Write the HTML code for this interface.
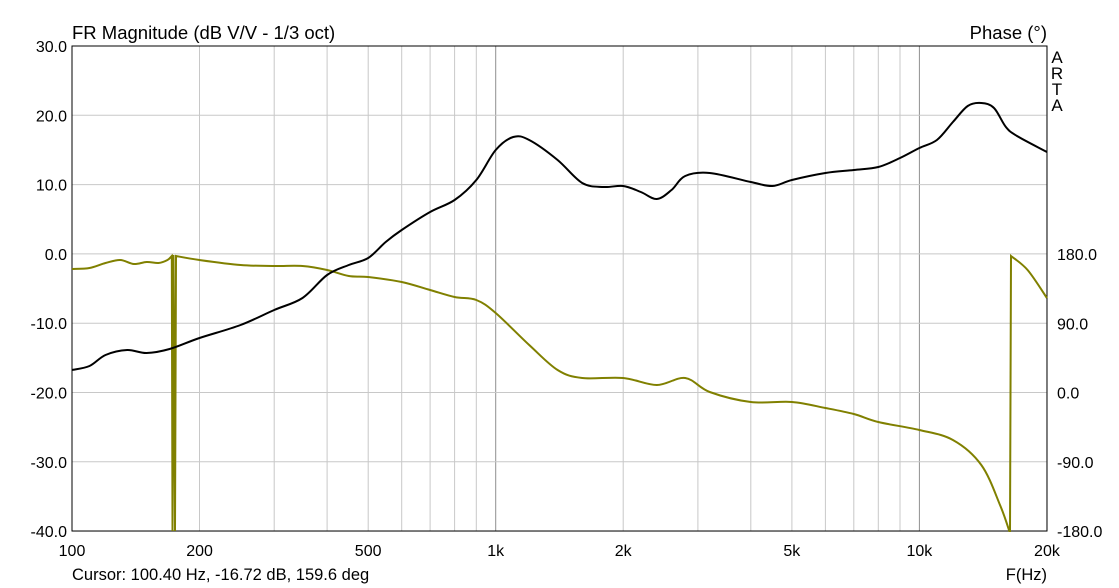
<!DOCTYPE html>
<html><head><style>
body{margin:0;background:#fff;}
svg{display:block;font-family:"Liberation Sans",sans-serif;}
</style></head><body>
<svg id="s" width="1119" height="588" xmlns="http://www.w3.org/2000/svg">
<rect width="1119" height="588" fill="#fff"/>
<g id="grid"></g>
<rect x="72" y="46" width="975" height="485" fill="none" stroke="#000" stroke-width="1"/>
<path id="ph" fill="none" stroke="#808000" stroke-width="2"/>
<path id="mag" fill="none" stroke="#000" stroke-width="2"/>
<g font-size="16" fill="#000" id="lab">
<text x="72" y="39" font-size="18.5">FR Magnitude (dB V/V - 1/3 oct)</text>
<text x="1047" y="39" text-anchor="end" font-size="18.5">Phase (°)</text>
<text x="1057" y="63" text-anchor="middle" font-size="17">A</text>
<text x="1057" y="79" text-anchor="middle" font-size="17">R</text>
<text x="1057" y="95" text-anchor="middle" font-size="17">T</text>
<text x="1057" y="111" text-anchor="middle" font-size="17">A</text>
<text x="72" y="580" font-size="16.5">Cursor: 100.40 Hz, -16.72 dB, 159.6 deg</text>
<text x="1047" y="580" text-anchor="end" font-size="16.5">F(Hz)</text>
</g>
</svg>
<script>
const X=f=>72+423.7*Math.log10(f/100);
const g=document.getElementById('grid'),lab=document.getElementById('lab');
let h='';
[100,200,300,400,500,600,700,800,900,1000,2000,3000,4000,5000,6000,7000,8000,9000,10000,20000].forEach(f=>{
 const x=X(f).toFixed(1);const main=(f==1000||f==10000);
 h+=`<line x1="${x}" y1="46" x2="${x}" y2="531" stroke="${main?'#909090':'#c8c8c8'}" stroke-width="1"/>`;});
for(let i=0;i<8;i++){const y=46+i*69.3;h+=`<line x1="72" y1="${y}" x2="1047" y2="${y}" stroke="#c8c8c8"/>`;}
g.innerHTML=h;
let t='';
[[100,'100'],[200,'200'],[500,'500'],[1000,'1k'],[2000,'2k'],[5000,'5k'],[10000,'10k'],[20000,'20k']].forEach(([f,s])=>{
 t+=`<text x="${X(f)}" y="556" text-anchor="middle">${s}</text>`;});
['30.0','20.0','10.0','0.0','-10.0','-20.0','-30.0','-40.0'].forEach((s,i)=>{
 t+=`<text x="67" y="${46+i*69.3+6}" text-anchor="end">${s}</text>`;});
['180.0','90.0','0.0','-90.0','-180.0'].forEach((s,i)=>{
 t+=`<text x="1057" y="${254+i*69.3+6}">${s}</text>`;});
lab.insertAdjacentHTML('beforeend',t);
function smooth(pts){
 let d='M'+pts[0][0].toFixed(1)+','+pts[0][1];
 for(let i=0;i<pts.length-1;i++){
  const p0=pts[Math.max(i-1,0)],p1=pts[i],p2=pts[i+1],p3=pts[Math.min(i+2,pts.length-1)];
  const c1=[p1[0]+(p2[0]-p0[0])/6,p1[1]+(p2[1]-p0[1])/6],c2=[p2[0]-(p3[0]-p1[0])/6,p2[1]-(p3[1]-p1[1])/6];
  d+=` C${c1[0].toFixed(1)},${c1[1].toFixed(1)} ${c2[0].toFixed(1)},${c2[1].toFixed(1)} ${p2[0].toFixed(1)},${p2[1]}`;
 }
 return d;
}
const m=[[100,370],[110,366],[120,355],[135,350],[150,353],[170,349],[200,338],[250,325],[300,310],[350,298],[400,275],[450,265],[500,258],[550,242],[600,230],[700,212],[800,200],[900,180],[1000,150],[1100,137],[1200,140],[1400,160],[1600,183],[1800,187],[2000,186],[2200,192],[2400,199],[2600,190],[2800,176],[3200,173],[4000,182],[4500,186],[5000,180],[6000,173],[7000,170],[8000,167],[9000,158],[10000,148],[11000,140],[12000,122],[13000,106],[14000,103],[15000,108],[16000,127],[17000,136],[20000,152]];
document.getElementById('mag').setAttribute('d',smooth(m.map(p=>[X(p[0]),p[1]])));
const a=[[100,269],[110,268],[120,263],[130,260],[140,264],[150,262],[160,263],[168,260],[172,256]].map(p=>[X(p[0]),p[1]]);
const b=[[176,256],[200,260],[250,265],[300,266],[350,266],[400,270],[450,276],[500,277],[600,282],[700,290],[800,297],[900,300],[1000,313],[1200,345],[1400,370],[1600,378],[2000,378],[2400,385],[2800,378],[3200,392],[4000,402],[5000,402],[6000,408],[7000,414],[8000,422],[10000,430],[12000,440],[14000,465],[15500,505],[16300,531]].map(p=>[X(p[0]),p[1]]);
const c=[[1011,256],[X(18000),270],[X(20000),298]];
let d=smooth(a)+' L172.5,531 L173.5,255 L175,531 L176,256 '+smooth(b).replace('M','L')+' L1010,531 '+smooth(c).replace('M','L');
document.getElementById('ph').setAttribute('d',d);
</script>
</body></html>
